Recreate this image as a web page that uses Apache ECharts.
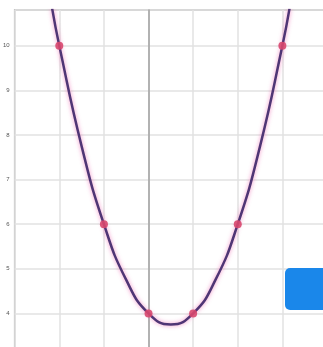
<!DOCTYPE html>
<html>
<head>
<meta charset="utf-8">
<style>
  html, body { margin: 0; padding: 0; background: #fff; overflow: hidden; }
  /* chart box a bit larger than the window so the right/bottom frame falls off-screen */
  #chart { width: 327px; height: 358px; }
</style>
<script src="https://cdn.jsdelivr.net/npm/echarts@6/dist/echarts.min.js"></script>
</head>
<body>
<div id="chart"></div>
<script>
// curve (x, y)
const curveX = [-2.16, -2, -1.5, -1, -0.5, 0, 0.5, 1, 1.5, 2, 2.5, 3, 3.16];
const curveY = [10.83, 10, 7.75, 6, 4.75, 4, 3.75, 4, 4.75, 6, 7.75, 10, 10.83];
// marked points
const dotX = [-2, -1, 0, 1, 2, 3];
const dotY = [10, 6, 4, 4, 6, 10];
const yTicks = [4, 5, 6, 7, 8, 9, 10];

const chart = echarts.init(document.getElementById('chart'));

chart.setOption({
  animation: false,
  grid: {
    left: 14,
    top: 10,
    right: 0,
    bottom: 0,
    show: true,
    borderColor: '#a8a8a8',
    borderWidth: 1.5
  },
  xAxis: {
    type: 'value',
    min: -3,
    max: 4,
    interval: 1,
    axisLine: { show: false },
    axisTick: { show: false },
    axisLabel: { show: false },
    splitLine: { lineStyle: { color: '#e2e2e2', width: 1.5 } }
  },
  yAxis: {
    type: 'value',
    min: 3,
    max: 10.8,
    interval: 1,
    axisLine: { show: true, onZero: true, lineStyle: { color: '#a0a0a0', width: 1.5 } },
    axisTick: { show: false },
    axisLabel: {
      fontSize: 6,
      color: '#555',
      margin: 5,
      formatter: v => (yTicks.includes(v) ? String(v) : '')
    },
    splitLine: { lineStyle: { color: '#e2e2e2', width: 1.5 } }
  },
  series: [{
    type: 'line',
    data: curveX.map((x, i) => [x, curveY[i]]),
    smooth: true,
    showSymbol: false,
    lineStyle: {
      color: '#4f3675',
      width: 2.5,
      shadowColor: 'rgba(235, 90, 170, 0.7)',
      shadowBlur: 4
    },
    z: 3
  }, {
    type: 'scatter',
    data: dotX.map((x, i) => [x, dotY[i]]),
    symbolSize: 8,
    itemStyle: { color: '#d8476e', opacity: 0.9 },
    z: 4
  }],
  graphic: [{
    type: 'rect',
    left: 285,
    top: 268,
    shape: { width: 45, height: 42, r: 5 },
    style: { fill: '#1a87ea' },
    z: 10
  }]
});
</script>
</body>
</html>
